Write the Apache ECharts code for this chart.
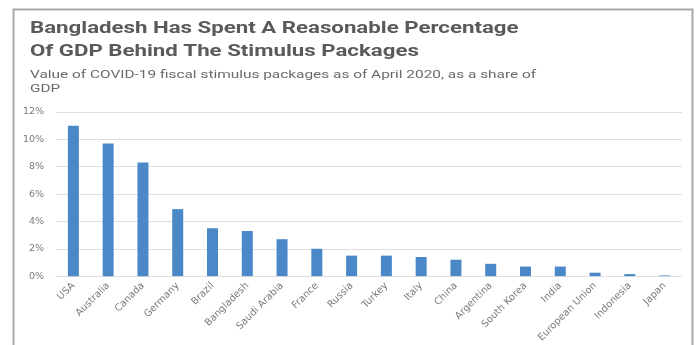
<!DOCTYPE html>
<html>
<head>
<meta charset="utf-8">
<script src="https://cdn.jsdelivr.net/npm/echarts@6/dist/echarts.min.js"></script>
<style>
html,body{margin:0;padding:0;background:#fff;}
#chart{width:698px;height:345px;}
</style>
</head>
<body>
<div id="chart"></div>
<script>
const categories = ["USA","Australia","Canada","Germany","Brazil","Bangladesh","Saudi Arabia","France","Russia","Turkey","Italy","China","Argentina","South Korea","India","European Union","Indonesia","Japan"];
const values = [11.0, 9.7, 8.3, 4.9, 3.5, 3.3, 2.7, 2.0, 1.5, 1.5, 1.4, 1.2, 0.9, 0.7, 0.7, 0.25, 0.15, 0.05];
const titleLines = ["Bangladesh Has Spent A Reasonable Percentage", "Of GDP Behind The Stimulus Packages"];
const subtitleLines = ["Value of COVID-19 fiscal stimulus packages as of April 2020, as a share of", "GDP"];

const titleYs = [28.5, 52];
const subYs = [75, 89];
const graphics = [{
  type: 'polyline',
  shape: {points: [[13.5, 345], [13.5, 9.5], [692.5, 9.5], [692.5, 345]]},
  style: {stroke: '#a8a8a8', lineWidth: 2, fill: null}
}];
titleLines.forEach((t, i) => graphics.push({
  type: 'text', x: 30, y: titleYs[i], scaleX: 1.39,
  style: {text: t, fontFamily: 'Roboto', fontWeight: 'bold', fontSize: 16, fill: '#5a5a5a', verticalAlign: 'middle', align: 'left'}
}));
subtitleLines.forEach((t, i) => graphics.push({
  type: 'text', x: 30, y: subYs[i], scaleX: 1.4,
  style: {text: t, fontFamily: 'Roboto', fontWeight: 'normal', fontSize: 11, fill: '#6a6a6a', verticalAlign: 'middle', align: 'left'}
}));

const chart = echarts.init(document.getElementById('chart'), null, {renderer:'canvas'});
chart.setOption({
  backgroundColor: '#fff',
  animation: false,
  graphic: graphics,
  grid: {left: 56, right: 16, top: 112, bottom: 68},
  xAxis: {
    type: 'category', data: categories,
    axisLine: {show: true, lineStyle: {color: '#e0e0e0'}},
    axisTick: {show: false},
    axisLabel: {rotate: 45, fontFamily: 'DejaVu Sans', fontSize: 9.8, color: '#7a7a7a', margin: 8, interval: 0}
  },
  yAxis: {
    type: 'value', min: 0, max: 12, interval: 2,
    axisLine: {show: false}, axisTick: {show: false},
    splitLine: {lineStyle: {color: '#dedede'}},
    axisLabel: {formatter: '{value}%', fontFamily: 'DejaVu Sans', fontSize: 9.5, color: '#7a7a7a', margin: 12}
  },
  series: [{
    type: 'bar', data: values, barWidth: 11,
    itemStyle: {color: '#4a88c8'}
  }]
});
</script>
</body>
</html>
